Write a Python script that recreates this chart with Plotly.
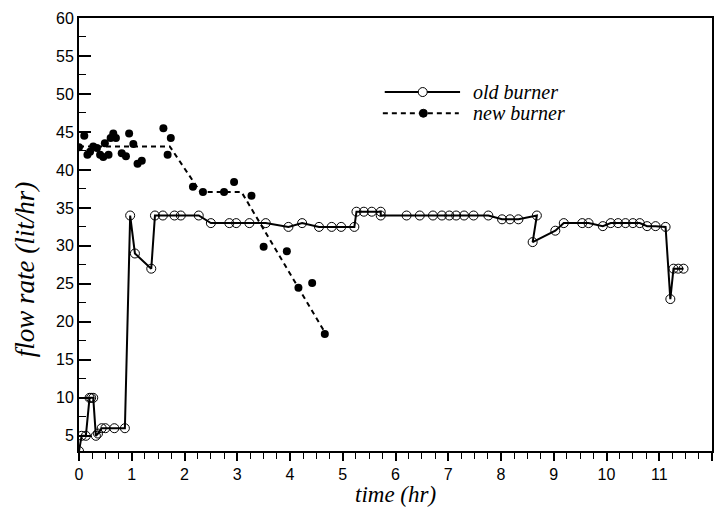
import plotly.graph_objects as go

# old burner (open circles, solid line)
old_time = [0, 0.05, 0.13, 0.2, 0.23, 0.27, 0.32, 0.36, 0.43, 0.5,
            0.67, 0.87, 0.97, 1.06, 1.37, 1.44, 1.59, 1.81, 1.93, 2.27,
            2.5, 2.85, 2.98, 3.23, 3.54, 3.97, 4.23, 4.55, 4.79, 4.97,
            5.22, 5.26, 5.4, 5.55, 5.72, 5.72, 6.21, 6.46, 6.71, 6.88,
            7.02, 7.15, 7.3, 7.48, 7.76, 8.02, 8.17, 8.33, 8.68, 8.6,
            9.03, 9.19, 9.54, 9.66, 9.93, 10.08, 10.22, 10.36, 10.5, 10.63,
            10.77, 10.93, 11.12, 11.21, 11.27, 11.36, 11.46]
old_flow = [3, 5, 5, 10, 10, 10, 5, 5.3, 6, 6,
            6, 6, 34, 29, 27, 34, 34, 34, 34, 34,
            33, 33, 33, 33, 33, 32.5, 33, 32.5, 32.5, 32.5,
            32.5, 34.5, 34.5, 34.5, 34.5, 34, 34, 34, 34, 34,
            34, 34, 34, 34, 34, 33.5, 33.5, 33.5, 34, 30.5,
            32, 33, 33, 33, 32.6, 33, 33, 33, 33, 33,
            32.6, 32.6, 32.5, 23, 27, 27, 27]

# new burner measurements (filled dots)
new_time = [0, 0.1, 0.16, 0.21, 0.27, 0.34, 0.4, 0.46, 0.49, 0.56,
            0.6, 0.65, 0.7, 0.81, 0.89, 0.95, 1.03, 1.11, 1.19, 1.6,
            1.68, 1.74, 2.16, 2.35, 2.75, 2.94, 3.27, 3.5, 3.94, 4.16,
            4.42, 4.66]
new_flow = [43, 44.5, 42, 42.4, 43.1, 42.9, 42, 41.7, 43.5, 42,
            44.2, 44.8, 44.2, 42.2, 41.8, 44.8, 43.4, 40.8, 41.2, 45.5,
            42, 44.2, 37.8, 37.1, 37.1, 38.4, 36.6, 29.9, 29.3, 24.5,
            25.1, 18.4]

# dashed trend drawn for the new burner
trend_time = [0, 1.72, 2.3, 3.08, 4.68]
trend_flow = [43.1, 43.1, 37.1, 37.1, 18.4]

x_ticks = list(range(0, 13))
y_ticks = list(range(5, 61, 5))

fig = go.Figure()

fig.add_trace(go.Scatter(
    x=old_time, y=old_flow, mode="lines+markers", name="old burner",
    line=dict(color="black", width=2),
    marker=dict(symbol="circle-open", size=9, color="black", line=dict(width=1)),
    showlegend=False,
))
fig.add_trace(go.Scatter(
    x=trend_time, y=trend_flow, mode="lines", name="new burner trend",
    line=dict(color="black", width=2, dash="5px,4px"),
    showlegend=False,
))
fig.add_trace(go.Scatter(
    x=new_time, y=new_flow, mode="markers", name="new burner",
    marker=dict(symbol="circle", size=8, color="black"),
    showlegend=False,
))

serif = "Liberation Serif, Times New Roman, serif"

# hand drawn legend like the original
fig.add_shape(type="line", xref="paper", yref="paper", x0=0.483, x1=0.602, y0=0.829, y1=0.829,
              line=dict(color="black", width=2))
fig.add_shape(type="circle", xref="paper", yref="paper", xsizemode="pixel", ysizemode="pixel",
              xanchor=0.543, yanchor=0.829, x0=-4.5, x1=4.5, y0=-4.5, y1=4.5,
              line=dict(color="black", width=1), fillcolor="white")
fig.add_shape(type="line", xref="paper", yref="paper", x0=0.480, x1=0.600, y0=0.780, y1=0.780,
              line=dict(color="black", width=2, dash="5px,4px"))
fig.add_shape(type="circle", xref="paper", yref="paper", xsizemode="pixel", ysizemode="pixel",
              xanchor=0.544, yanchor=0.780, x0=-4, x1=4, y0=-4, y1=4,
              line=dict(color="black", width=1), fillcolor="black")

fig.add_annotation(text="<i>old burner</i>", xref="paper", yref="paper", x=0.62, y=0.829,
                   xanchor="left", yanchor="middle", showarrow=False,
                   font=dict(family=serif, size=20, color="black"))
fig.add_annotation(text="<i>new burner</i>", xref="paper", yref="paper", x=0.62, y=0.780,
                   xanchor="left", yanchor="middle", showarrow=False,
                   font=dict(family=serif, size=20, color="black"))

# axis titles
fig.add_annotation(text="<i>time (hr)</i>", xref="paper", yref="paper", x=0.5, y=-0.1,
                   xanchor="center", yanchor="middle", showarrow=False,
                   font=dict(family=serif, size=23, color="black"))
fig.add_annotation(text="<i>flow rate (lit/hr)</i>", xref="paper", yref="paper", x=-0.085, y=0.42,
                   xanchor="center", yanchor="middle", showarrow=False, textangle=-90,
                   font=dict(family=serif, size=27, color="black"))

fig.update_xaxes(
    range=[0, 12], tickvals=x_ticks, ticks="outside", ticklen=8, tickwidth=2,
    showline=True, linewidth=2, linecolor="black", mirror=True,
    showgrid=False, zeroline=False, automargin=False,
    minor=dict(dtick=0.25, tick0=0, ticks="outside", ticklen=6, tickwidth=1, tickcolor="black"),
    tickfont=dict(family="Liberation Sans, Arial, sans-serif", size=16, color="black"),
    tickcolor="black",
)
fig.update_yaxes(
    range=[3, 60], tickvals=y_ticks, ticks="inside", ticklen=12, tickwidth=2,
    showline=True, linewidth=2, linecolor="black", mirror=True,
    showgrid=False, zeroline=False, automargin=False,
    minor=dict(dtick=2.5, tick0=0, ticks="inside", ticklen=7, tickwidth=1, tickcolor="black"),
    tickfont=dict(family="Liberation Sans, Arial, sans-serif", size=16, color="black"),
    tickcolor="black",
)

fig.update_layout(
    width=715, height=507,
    margin=dict(l=79, r=3, t=18, b=56),
    paper_bgcolor="white", plot_bgcolor="white",
    showlegend=False,
)

# drop the default 8px page margin so the figure fills the window exactly
fig.write_html("out.html", config={"displayModeBar": False},
               post_script="document.body.style.margin='0';document.body.style.overflow='hidden';")
